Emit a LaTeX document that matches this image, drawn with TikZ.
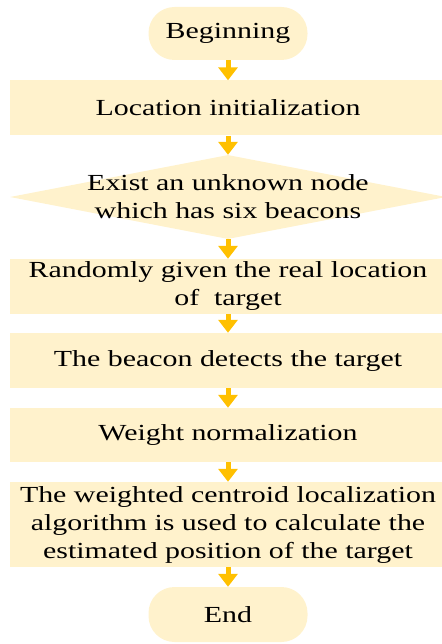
\documentclass[tikz,border=0pt]{standalone}
\usepackage{fontspec}
\setmainfont{Liberation Serif}[FakeStretch=1.3]
\usetikzlibrary{arrows.meta,shapes.geometric}
\definecolor{cream}{HTML}{FFF2CC}
\definecolor{gold}{HTML}{FFC000}
\begin{document}
\begin{tikzpicture}[x=1pt,y=-1pt,
  every node/.style={font=\fontsize{23}{28}\selectfont, text=black, align=center, inner sep=0pt},
  proc/.style={fill=cream, minimum width=436pt},
  pill/.style={fill=cream, rounded corners=26pt, minimum width=159pt},
  arr/.style={draw=gold, line width=5pt, -{Triangle[width=19pt,length=13pt]}, gold}]
\useasboundingbox (0,0) rectangle (441,644);
\node[pill, minimum height=53pt] (beg) at (228,33.5) {Beginning};
\node[proc, minimum height=55pt] (init) at (228,108) {Location initialization};
\node[shape=diamond, fill=cream, minimum width=436pt, minimum height=84pt] (dia) at (228,197) {};
\node (diat) at (228,197) {Exist an unknown node\\which has six beacons};
\node[proc, minimum height=55pt] (rand) at (228,286.5) {Randomly given the real location\\of\ \ target};
\node[proc, minimum height=55pt] (det) at (228,360.5) {The beacon detects the target};
\node[proc, minimum height=54pt] (wn) at (228,435) {Weight normalization};
\node[proc, minimum height=85pt] (wc) at (228,524.5) {The weighted centroid localization\\algorithm is used to calculate the\\estimated position of the target};
\node[pill, minimum height=55pt] (end) at (228,614.5) {End};
\draw[arr] (beg.south) -- (init.north);
\draw[arr] (init.south) -- (dia.north);
\draw[arr] (dia.south) -- (rand.north);
\draw[arr] (rand.south) -- (det.north);
\draw[arr] (det.south) -- (wn.north);
\draw[arr] (wn.south) -- (wc.north);
\draw[arr] (wc.south) -- (end.north);
\end{tikzpicture}
\end{document}
